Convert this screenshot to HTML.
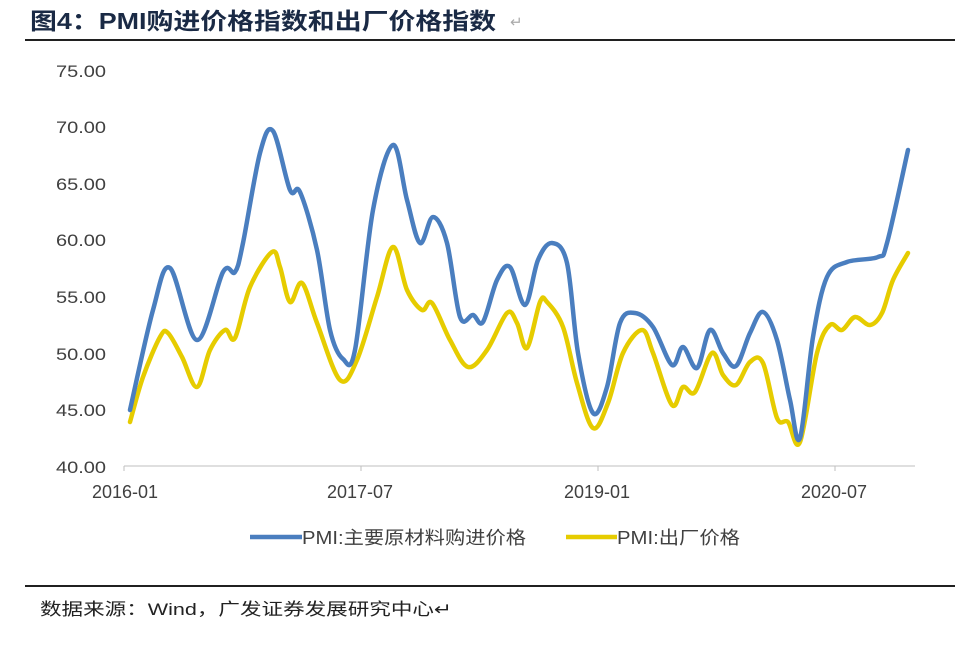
<!DOCTYPE html>
<html><head><meta charset="utf-8"><style>
body{margin:0;background:#fff;width:960px;height:672px;overflow:hidden;font-family:"Liberation Sans","Noto Sans CJK SC",sans-serif}
</style></head><body>
<svg width="960" height="672" xmlns="http://www.w3.org/2000/svg" style="position:absolute;left:0;top:0">
<text x="30" y="29" font-size="23" font-weight="bold" fill="#1a2a45" textLength="466" lengthAdjust="spacingAndGlyphs" font-family="Liberation Sans,Noto Sans CJK SC,sans-serif">图4：PMI购进价格指数和出厂价格指数</text>
<text x="510" y="27" font-size="15" fill="#aaa">↵</text>
<line x1="25" y1="40" x2="955" y2="40" stroke="#000" stroke-width="1.8"/>
<line x1="25" y1="586" x2="955" y2="586" stroke="#000" stroke-width="1.8"/>
<text x="40" y="615" font-size="17" fill="#222" textLength="412" lengthAdjust="spacingAndGlyphs" font-family="Liberation Sans,Noto Sans CJK SC,sans-serif">数据来源：Wind，广发证券发展研究中心↵</text>
<g font-size="17" fill="#404040" text-anchor="end">
<text x="106" y="77" textLength="50" lengthAdjust="spacingAndGlyphs">75.00</text><text x="106" y="133" textLength="50" lengthAdjust="spacingAndGlyphs">70.00</text><text x="106" y="190" textLength="50" lengthAdjust="spacingAndGlyphs">65.00</text>
<text x="106" y="246" textLength="50" lengthAdjust="spacingAndGlyphs">60.00</text><text x="106" y="303" textLength="50" lengthAdjust="spacingAndGlyphs">55.00</text><text x="106" y="360" textLength="50" lengthAdjust="spacingAndGlyphs">50.00</text>
<text x="106" y="416" textLength="50" lengthAdjust="spacingAndGlyphs">45.00</text><text x="106" y="473" textLength="50" lengthAdjust="spacingAndGlyphs">40.00</text>
</g>
<line x1="124" y1="466" x2="915" y2="466" stroke="#bfbfbf" stroke-width="1"/>
<g stroke="#bfbfbf"><line x1="124" y1="466" x2="124" y2="471"/><line x1="361" y1="466" x2="361" y2="471"/><line x1="598" y1="466" x2="598" y2="471"/><line x1="835" y1="466" x2="835" y2="471"/></g>
<g font-size="18" fill="#404040" text-anchor="middle">
<text x="125" y="498" textLength="66" lengthAdjust="spacingAndGlyphs">2016-01</text><text x="360" y="498" textLength="66" lengthAdjust="spacingAndGlyphs">2017-07</text><text x="597" y="498" textLength="66" lengthAdjust="spacingAndGlyphs">2019-01</text><text x="834" y="498" textLength="66" lengthAdjust="spacingAndGlyphs">2020-07</text>
</g>
<path id="yl" fill="none" stroke="#e6cc00" stroke-width="4.5" stroke-linecap="round"/>
<path id="bl" fill="none" stroke="#4a7ebf" stroke-width="4.5" stroke-linecap="round"/>
<line x1="250" y1="537" x2="302" y2="537" stroke="#4a7ebf" stroke-width="4.5"/>
<text x="302" y="544" font-size="18" fill="#404040" textLength="224" lengthAdjust="spacingAndGlyphs" font-family="Liberation Sans,Noto Sans CJK SC,sans-serif">PMI:主要原材料购进价格</text>
<line x1="566" y1="537" x2="617" y2="537" stroke="#e6cc00" stroke-width="4.5"/>
<text x="617" y="544" font-size="18" fill="#404040" textLength="123" lengthAdjust="spacingAndGlyphs" font-family="Liberation Sans,Noto Sans CJK SC,sans-serif">PMI:出厂价格</text>
</svg>
<script>
function cr(p){var d="M"+p[0][0]+","+p[0][1];for(var i=0;i<p.length-1;i++){var a=p[i-1]||p[i],b=p[i],c=p[i+1],e=p[i+2]||c;
d+=" C"+(b[0]+(c[0]-a[0])/6)+","+(b[1]+(c[1]-a[1])/6)+" "+(c[0]-(e[0]-b[0])/6)+","+(c[1]-(e[1]-b[1])/6)+" "+c[0]+","+c[1];}return d;}
var B=[[130,410],[153,310],[170,268],[197,340],[223,272],[235,272],[243,243],[260,153],[273,131],[290,190],[300,192],[317,250],[330,330],[343,359],[355,350],[373,210],[393,145],[407,200],[420,243],[433,217],[447,243],[460,317],[473,315],[483,322],[497,280],[510,267],[525,305],[538,260],[552,243],[567,263],[578,353],[593,413],[607,387],[620,323],[635,313],[653,327],[672,365],[683,347],[697,368],[710,330],[723,353],[736,366],[750,333],[763,312],[777,340],[790,400],[800,438],[813,337],[827,277],[847,262],[878,257],[887,243],[908,150]];
var Y=[[130,422],[143,377],[160,337],[168,333],[182,357],[197,387],[210,350],[225,330],[235,338],[250,287],[272,252],[280,267],[290,302],[302,283],[317,323],[340,380],[357,360],[377,297],[393,247],[407,290],[422,310],[432,303],[450,340],[468,367],[487,350],[507,313],[517,323],[527,348],[540,302],[547,302],[563,327],[577,383],[593,428],[608,403],[623,353],[642,330],[653,353],[672,405],[683,387],[695,392],[712,353],[723,375],[736,385],[750,362],[763,363],[777,418],[788,422],[800,442],[817,353],[830,325],[842,330],[855,317],[870,325],[882,313],[893,280],[908,253]];
document.getElementById("bl").setAttribute("d",cr(B));
document.getElementById("yl").setAttribute("d",cr(Y));
</script>
</body></html>
